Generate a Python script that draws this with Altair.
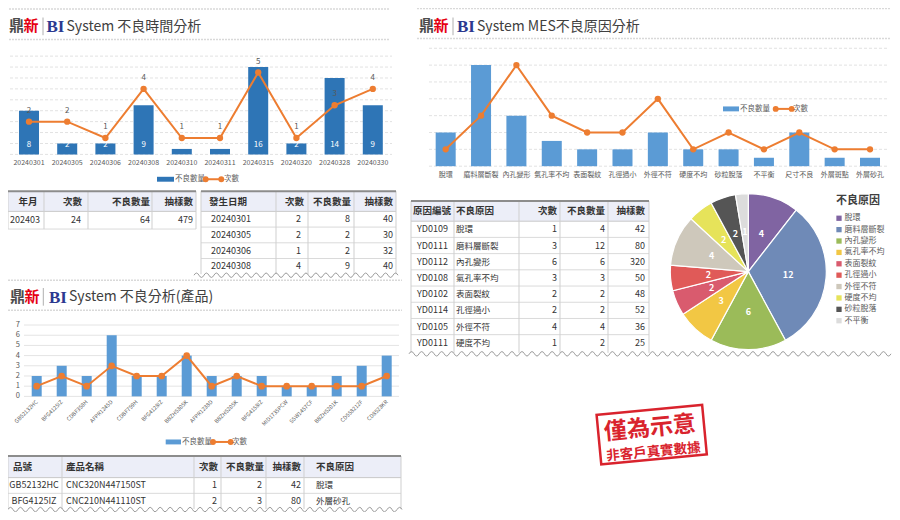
import altair as alt
import pandas as pd

# ---------------- data ----------------
time_dates = ["20240301", "20240305", "20240306", "20240308", "20240310",
              "20240311", "20240315", "20240320", "20240328", "20240330"]
time_defects = [8, 2, 2, 9, 1, 1, 16, 2, 14, 9]
time_counts = [2, 2, 1, 4, 1, 1, 5, 1, 3, 4]
time_samples_head = [40, 30, 32, 40]
time_grid = [0, 2, 4, 6, 8, 10, 12, 14, 16, 18]

month_label = ["202403"]
month_counts = [24]
month_defects = [64]
month_samples = [479]

prod_codes = ["GB52132HC", "BFG4125IZ", "CDBF358H", "AFPR1245D", "CDBF759H",
              "BFG4128IZ", "BBZH5305K", "AFPR1238D", "BBZH5205K", "BFG4158IZ",
              "MID1735PCW", "SSW1457CF", "BBZH5201K", "CD558212F", "CD8523KR"]
prod_defects = [2, 3, 2, 6, 2, 2, 4, 2, 2, 2, 1, 1, 2, 3, 4]
prod_counts = [1, 2, 1, 3, 2, 2, 4, 1, 2, 1, 1, 1, 1, 1, 2]
prod_ticks = [0, 1, 2, 3, 4, 5, 6, 7]

prod_tbl_code = ["GB52132HC", "BFG4125IZ"]
prod_tbl_name = ["CNC320N447150ST", "CNC210N441110ST"]
prod_tbl_counts = [1, 2]
prod_tbl_defects = [2, 3]
prod_tbl_samples = [42, 80]
prod_tbl_reason = ["脫環", "外層砂孔"]

mes_reasons = ["脫環", "磨料層斷裂", "內孔變形", "氣孔率不均", "表面裂紋", "孔徑過小",
               "外徑不符", "硬度不均", "砂粒脫落", "不平衡", "尺寸不良", "外層斑點", "外層砂孔"]
mes_defects = [4, 12, 6, 3, 2, 2, 4, 2, 2, 1, 4, 1, 1]
mes_counts = [1, 3, 6, 3, 2, 2, 4, 1, 2, 1, 2, 1, 1]
mes_grid = [0, 2, 4, 6, 8, 10, 12, 14]

mes_tbl_codes = ["YD0109", "YD0111", "YD0112", "YD0108", "YD0102", "YD0114", "YD0105", "YD0111"]
mes_tbl_reasons = ["脫環", "磨料層斷裂", "內孔變形", "氣孔率不均", "表面裂紋", "孔徑過小", "外徑不符", "硬度不均"]
mes_tbl_counts = [1, 3, 6, 3, 2, 2, 4, 1]
mes_tbl_defects = [4, 12, 6, 3, 2, 2, 4, 2]
mes_tbl_samples = [42, 80, 320, 50, 48, 52, 36, 25]

pie_reasons = ["脫環", "磨料層斷裂", "內孔變形", "氣孔率不均", "表面裂紋", "孔徑過小",
               "外徑不符", "硬度不均", "砂粒脫落", "不平衡"]
pie_values = [4, 12, 6, 3, 2, 2, 4, 2, 2, 1]
pie_colors = ["#8064A2", "#6F8AB7", "#9BBB59", "#F2C744", "#D95B6E", "#E05A58",
              "#CEC8BB", "#E6E35A", "#555555", "#DCDCDC"]

# ---------------- layout helpers ----------------
W, H = 884, 504
FONT = "Noto Sans CJK TC"
DARK = "#333333"
GRAY = "#595959"
ORANGE = "#ED7D31"
ONE = pd.DataFrame({"k": [0]})


def X(v):
    return round(v - 4, 2)


def Y(v):
    return round((v - 4) * 504.0 / 513.0, 2)


def txt(s, x, y, size=9, color=DARK, weight="normal", align="left", font=FONT, angle=None):
    props = dict(text=s, font=font, fontSize=size, color=color, fontWeight=weight,
                 align=align, baseline="middle")
    if angle is not None:
        props["angle"] = angle
    return alt.Chart(ONE).mark_text(**props).encode(x=alt.value(X(x)), y=alt.value(Y(y)))


def hline(x0, x1, y, color, width=1.0, dash=None):
    props = dict(color=color, strokeWidth=width)
    if dash:
        props["strokeDash"] = dash
    return alt.Chart(ONE).mark_rule(**props).encode(
        x=alt.value(X(x0)), x2=alt.value(X(x1)), y=alt.value(Y(y)))


def vline(x, y0, y1, color, width=1.0):
    return alt.Chart(ONE).mark_rule(color=color, strokeWidth=width).encode(
        x=alt.value(X(x)), y=alt.value(Y(y0)), y2=alt.value(Y(y1)))


def rect(x0, x1, y0, y1, fill):
    return alt.Chart(ONE).mark_rect(color=fill).encode(
        x=alt.value(X(x0)), x2=alt.value(X(x1)), y=alt.value(Y(y0)), y2=alt.value(Y(y1)))


def dot(x, y, color=ORANGE, size=35):
    return alt.Chart(ONE).mark_point(filled=True, color=color, size=size, opacity=1).encode(
        x=alt.value(X(x)), y=alt.value(Y(y)))


def wave(x0, x1, y, period=10.0, amp=2.2):
    # torn-edge decoration: a wavy symbol path scaled to the span width
    span = x1 - x0
    s = span / 2.0
    halves = max(2, int(round(span / (period / 2.0))))
    h = 2.0 / halves
    a = (2 * amp) / s
    path = "M-1,0 Q{:.4f},{:.4f} {:.4f},0".format(-1 + h / 2, -a, -1 + h)
    for i in range(2, halves + 1):
        path += " T{:.4f},0".format(-1 + h * i)
    return alt.Chart(ONE).mark_point(shape=path, size=span * span, filled=False, color="#9a9a9a",
                                     strokeWidth=1, opacity=1).encode(
        x=alt.value(X((x0 + x1) / 2.0)), y=alt.value(Y(y)))


def title(xd, xbar, xbi, xsys, y, rest, r0, r1, ytop, ybot):
    out = [hline(r0, r1, ytop, "#d9d9d9", 1.5, [2, 1]),
           hline(r0, r1, ybot, "#d9d9d9", 1.5, [2, 1]),
           txt("鼎", xd, y, 15, "#4d4d4d", "bold"),
           txt("新", xd + 14.5, y, 15, "#e60012", "bold"),
           vline(xbar, y - 9, y + 9, "#b0b0b0", 1),
           txt("BI", xbi, y + 1, 17, "#2b3990", "bold", font="Liberation Serif"),
           txt(rest, xsys, y + 0.5, 14, "#404040")]
    return out


def table_col(values, x, top, rh, align, size=9, color=DARK):
    n = len(values)
    df = pd.DataFrame({"r": list(range(n)), "v": [str(v) for v in values]})
    return alt.Chart(df).mark_text(align=align, baseline="middle", font=FONT, fontSize=size,
                                   color=color).encode(
        x=alt.value(X(x)),
        y=alt.Y("r:O", scale=alt.Scale(domain=list(range(n)), range=[Y(top), Y(top + n * rh)],
                                       paddingInner=0, paddingOuter=0), axis=None),
        text="v:N")


def table_frame(x0, x1, top, hdr_bottom, bottom, seps, row_lines):
    out = [rect(x0, x1, top, hdr_bottom, "#ECEEF8"),
           hline(x0, x1, hdr_bottom, "#c8c8c8", 1)]
    for ry in row_lines:
        out.append(hline(x0, x1, ry, "#dadada", 1))
    for sx in seps:
        out.append(vline(sx, top, bottom, "#cfcfcf", 1))
    out.append(hline(x0, x1, top, "#8c8c8c", 2))
    return out


def legend(xr0, xr1, xc0, xc1, xt2, y, color):
    return [rect(xr0, xr1, y - 2.5, y + 2.5, color),
            txt("不良數量", xr1 + 1, y, 7.5, GRAY),
            hline(xc0, xc1, y, ORANGE, 2),
            dot(xc0, y), dot(xc1, y),
            txt("次數", xt2, y, 7.5, GRAY)]


L = []

# ================= LEFT TOP: 不良時間分析 =================
L += title(5, 39, 42.5, 62.5, 22.7, "System 不良時間分析", 5, 385, 5, 36)

c1 = pd.DataFrame({"d": time_dates, "dv": time_defects, "cv": time_counts})
x1 = alt.X("d:N", sort=time_dates,
           scale=alt.Scale(domain=time_dates, range=[X(5.9), X(387.9)],
                           paddingInner=0.476, paddingOuter=0.238), axis=None)
yb1 = alt.Scale(domain=[0, 18], range=[Y(153), Y(53)])
yl1 = alt.Scale(domain=[0, 6], range=[Y(153), Y(53)])

L.append(alt.Chart(pd.DataFrame({"g": time_grid})).mark_rule(color="#e2e2e2", strokeDash=[3, 2]).encode(
    y=alt.Y("g:Q", scale=yb1, axis=None), x=alt.value(X(6)), x2=alt.value(X(388))))
L.append(alt.Chart(c1).mark_bar(color="#2E75B6").encode(
    x=x1, y=alt.Y("dv:Q", scale=yb1, axis=None)))
L.append(alt.Chart(c1).transform_calculate(z="0").mark_text(
    color="white", fontSize=8, font=FONT, dy=-9).encode(
    x=x1, y=alt.Y("z:Q", scale=yb1, axis=None), text="dv:Q"))
L.append(alt.Chart(c1).mark_line(color=ORANGE, strokeWidth=2,
                                 point=alt.OverlayMarkDef(filled=True, size=40, color=ORANGE)).encode(
    x=x1, y=alt.Y("cv:Q", scale=yl1, axis=None)))
L.append(alt.Chart(c1).mark_text(color=GRAY, fontSize=8, font=FONT, dy=-11).encode(
    x=x1, y=alt.Y("cv:Q", scale=yl1, axis=None), text="cv:Q"))
L.append(alt.Chart(c1).mark_text(color=GRAY, fontSize=7, font=FONT).encode(
    x=x1, y=alt.value(Y(162)), text="d:N"))
L += legend(153, 170, 201.7, 217.3, 220, 178.3, "#2E75B6")

# ---- table 1 (month summary)
L += table_frame(4, 192, 190.5, 211, 229, [4, 40, 84, 148, 192], [229])
L += [txt("年月", 24, 201, 9.5, DARK, "bold", "center"),
      txt("次數", 78, 201, 9.5, DARK, "bold", "right"),
      txt("不良數量", 146, 201, 9.5, DARK, "bold", "right"),
      txt("抽樣數", 189, 201, 9.5, DARK, "bold", "right")]
L += [table_col(month_label, 21, 211, 18, "center"),
      table_col(month_counts, 77, 211, 18, "right"),
      table_col(month_defects, 146, 211, 18, "right"),
      table_col(month_samples, 189, 211, 18, "right")]

# ---- table 2 (by date)
L += table_frame(197, 392, 190.5, 211, 275, [197, 272, 304, 350, 392], [227, 243, 259])
L += [txt("發生日期", 224, 201, 9.5, DARK, "bold", "center"),
      txt("次數", 300, 201, 9.5, DARK, "bold", "right"),
      txt("不良數量", 347, 201, 9.5, DARK, "bold", "right"),
      txt("抽樣數", 389, 201, 9.5, DARK, "bold", "right")]
L += [table_col(time_dates[:4], 207, 211, 16, "left"),
      table_col(time_counts[:4], 297, 211, 16, "right"),
      table_col(time_defects[:4], 346, 211, 16, "right"),
      table_col(time_samples_head, 389, 211, 16, "right")]
L.append(rect(190, 394, 275.5, 290, "white"))
L.append(wave(190, 394, 276))

# ================= LEFT BOTTOM: 不良分析(產品) =================
L += title(6, 39.3, 45, 65, 298, "System 不良分析(產品)", 4, 398, 281, 311.7)

c2 = pd.DataFrame({"p": prod_codes, "dv": prod_defects, "cv": prod_counts})
x2 = alt.X("p:N", sort=prod_codes,
           scale=alt.Scale(domain=prod_codes, range=[X(20.2), X(395.2)],
                           paddingInner=0.6, paddingOuter=0.3), axis=None)
y2 = alt.Scale(domain=[0, 7], range=[Y(399.3), Y(326.7)])
L.append(alt.Chart(pd.DataFrame({"g": prod_ticks})).mark_rule(color="#e4e4e4").encode(
    y=alt.Y("g:Q", scale=y2, axis=None), x=alt.value(X(20)), x2=alt.value(X(395))))
L.append(alt.Chart(pd.DataFrame({"g": prod_ticks})).mark_text(
    color=GRAY, fontSize=7.5, font=FONT, align="right").encode(
    y=alt.Y("g:Q", scale=y2, axis=None), x=alt.value(X(16)), text="g:Q"))
L.append(alt.Chart(c2).mark_bar(color="#5B9BD5").encode(
    x=x2, y=alt.Y("dv:Q", scale=y2, axis=None)))
L.append(alt.Chart(c2).mark_line(color=ORANGE, strokeWidth=2,
                                 point=alt.OverlayMarkDef(filled=True, size=45, color=ORANGE)).encode(
    x=x2, y=alt.Y("cv:Q", scale=y2, axis=None)))
L.append(alt.Chart(c2).mark_text(color=GRAY, fontSize=5.5, font=FONT, align="right",
                                 baseline="middle", angle=315).encode(
    x=x2, y=alt.value(Y(404)), text="p:N"))
L += legend(161.7, 177, 209, 226.7, 228, 445.7, "#5B9BD5")

# ---- table 3 (product)
L += table_frame(4, 397, 460, 482, 514, [4, 58, 190, 217, 262, 300, 397], [498])
L += [txt("品號", 9, 471, 9.5, DARK, "bold"),
      txt("產品名稱", 62, 471, 9.5, DARK, "bold"),
      txt("次數", 214, 471, 9.5, DARK, "bold", "right"),
      txt("不良數量", 260, 471, 9.5, DARK, "bold", "right"),
      txt("抽樣數", 297, 471, 9.5, DARK, "bold", "right"),
      txt("不良原因", 312, 471, 9.5, DARK, "bold")]
L += [table_col(prod_tbl_code, 30, 482, 16, "center"),
      table_col(prod_tbl_name, 62, 482, 16, "left"),
      table_col(prod_tbl_counts, 213, 482, 16, "right"),
      table_col(prod_tbl_defects, 258, 482, 16, "right"),
      table_col(prod_tbl_samples, 297, 482, 16, "right"),
      table_col(prod_tbl_reason, 312, 482, 16, "left", size=8.5)]
L.append(wave(4, 398, 514.5))

# ================= RIGHT TOP: MES不良原因分析 =================
L += title(415, 449, 453, 473, 22.7, "System MES不良原因分析", 413, 887, 4.5, 35)

c3 = pd.DataFrame({"r": mes_reasons, "dv": mes_defects, "cv": mes_counts})
x3 = alt.X("r:N", sort=mes_reasons,
           scale=alt.Scale(domain=mes_reasons, range=[X(424), X(883.7)],
                           paddingInner=0.434, paddingOuter=0.217), axis=None)
yb3 = alt.Scale(domain=[0, 14], range=[Y(165), Y(45)])
yl3 = alt.Scale(domain=[0, 7], range=[Y(165), Y(45)])
L.append(alt.Chart(pd.DataFrame({"g": mes_grid})).mark_rule(color="#e2e2e2", strokeDash=[3, 2]).encode(
    y=alt.Y("g:Q", scale=yb3, axis=None), x=alt.value(X(425)), x2=alt.value(X(883))))
L.append(alt.Chart(c3).mark_bar(color="#5B9BD5").encode(
    x=x3, y=alt.Y("dv:Q", scale=yb3, axis=None)))
L.append(alt.Chart(c3).mark_line(color=ORANGE, strokeWidth=2,
                                 point=alt.OverlayMarkDef(filled=True, size=40, color=ORANGE)).encode(
    x=x3, y=alt.Y("cv:Q", scale=yl3, axis=None)))
L.append(alt.Chart(c3).mark_text(color=GRAY, fontSize=7, font=FONT).encode(
    x=x3, y=alt.value(Y(174)), text="r:N"))
L += legend(719, 735, 771.7, 787.7, 789, 106.7, "#5B9BD5")

# ---- table 4 (MES reasons)
rh4 = 16.5
rows4 = [221 + rh4 * (i + 1) for i in range(7)]
L += table_frame(407, 645, 200.5, 221, 355, [407, 450, 515, 556, 604, 645], rows4)
L += [txt("原因編號", 409, 211, 9.5, DARK, "bold"),
      txt("不良原因", 452, 211, 9.5, DARK, "bold"),
      txt("次數", 553, 211, 9.5, DARK, "bold", "right"),
      txt("不良數量", 601, 211, 9.5, DARK, "bold", "right"),
      txt("抽樣數", 641, 211, 9.5, DARK, "bold", "right")]
L += [table_col(mes_tbl_codes, 413, 221, rh4, "left"),
      table_col(mes_tbl_reasons, 452, 221, rh4, "left", size=8.5),
      table_col(mes_tbl_counts, 553, 221, rh4, "right"),
      table_col(mes_tbl_defects, 601, 221, rh4, "right"),
      table_col(mes_tbl_samples, 641, 221, rh4, "right")]
L.append(rect(405, 887, 355.5, 370, "white"))
L.append(wave(405, 887, 356))

# ---- pie
pie_df = pd.DataFrame({"reason": pie_reasons, "value": pie_values,
                       "idx": list(range(len(pie_reasons)))})
pcolor = alt.Color("reason:N", scale=alt.Scale(domain=pie_reasons, range=pie_colors), legend=None)
theta = alt.Theta("value:Q", stack=True)
CX, CY = X(744.3), Y(272.3)
L.append(alt.Chart(pie_df).mark_arc(outerRadius=78, stroke="white", strokeWidth=1.2).encode(
    theta=theta, color=pcolor, order=alt.Order("idx:Q"), x=alt.value(CX), y=alt.value(CY)))
L.append(alt.Chart(pie_df).mark_text(radius=40, color="white", fontSize=9, font=FONT,
                                     fontWeight="bold").encode(
    theta=theta, order=alt.Order("idx:Q"), text="value:Q", x=alt.value(CX), y=alt.value(CY)))

# pie legend
L.append(txt("不良原因", 832, 200, 11, "#404040", "bold"))
leg_df = pd.DataFrame({"reason": pie_reasons})
leg_y = alt.Y("reason:N", sort=pie_reasons,
              scale=alt.Scale(type="point", domain=pie_reasons, range=[Y(218), Y(322.3)], padding=0),
              axis=None)
L.append(alt.Chart(leg_df).mark_square(size=28, opacity=1).encode(
    x=alt.value(X(835)), y=leg_y, color=pcolor))
L.append(alt.Chart(leg_df).mark_text(align="left", fontSize=8, font=FONT, color=GRAY).encode(
    x=alt.value(X(840.5)), y=leg_y, text="reason:N"))

# ---- stamp
RED = "#D9232D"
L.append(alt.Chart(ONE).mark_point(shape="M-1,-0.47L1,-0.47L1,0.47L-1,0.47Z", size=106 * 106,
                                   angle=354.6, filled=False, color=RED, strokeWidth=2.5,
                                   opacity=1).encode(x=alt.value(X(647.7)), y=alt.value(Y(438.3))))
L.append(txt("僅為示意", 646, 432, 23, RED, "bold", "center", angle=354.6))
L.append(txt("非客戶真實數據", 649.5, 456, 13.5, RED, "bold", "center", angle=354.6))

chart = alt.layer(*L).resolve_scale(
    x="independent", y="independent", color="independent", theta="independent"
).properties(
    width=W, height=H, padding=0, autosize=alt.AutoSizeParams(type="none")
).configure_view(stroke=None)

chart.save("out.html", embed_options={"renderer": "svg", "actions": False})
